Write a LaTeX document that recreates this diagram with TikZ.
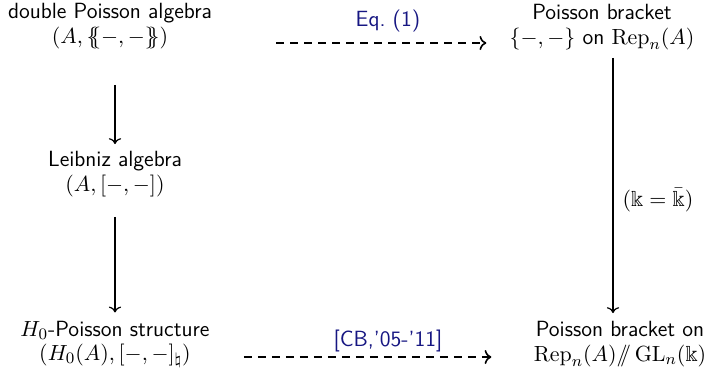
\documentclass[tikz,border=0pt]{standalone}
\usepackage{amssymb}
\usetikzlibrary{arrows.meta}
\definecolor{citeblue}{RGB}{22,22,130}
\begin{document}
\begin{tikzpicture}[x=0.5pt,y=-0.5pt,
  lbl/.style={font=\sffamily\fontsize{11}{12.2}\selectfont, inner sep=0pt, align=center},
  bluelbl/.style={lbl, text=citeblue},
  solidarr/.style={->, line width=0.6pt},
  dasharr/.style={->, dashed, line width=0.8pt, dash pattern=on 4pt off 3pt}]
\useasboundingbox (0,0) rectangle (711,376);
% left column
\node[lbl] (tl) at (110,26) {double Poisson algebra\\$(A,\{\!\!\{-,-\}\!\!\})$};
\node[lbl] (ml) at (115,174) {Leibniz algebra\\$(A,[-,-])$};
\node[lbl] (bl) at (115,344) {$H_0$-Poisson structure\\$(H_0(A),[-,-]_\natural)$};
% right column
\node[lbl] (tr) at (602,27) {Poisson bracket\\$\{-,-\}$ on $\mathrm{Rep}_n(A)$};
\node[lbl] (br) at (620,344) {Poisson bracket on\\$\mathrm{Rep}_n(A)/\!\!/\,\mathrm{GL}_n(\Bbbk)$};
% labels
\node[bluelbl] (eq) at (388,21) {Eq.~(1)};
\node[bluelbl] (cb) at (388,341) {[CB,'05-'11]};
\node[lbl] (kk) at (658,200) {$(\Bbbk=\bar{\Bbbk})$};
% arrows
\draw[solidarr, shorten <=36pt/2, shorten >=7pt/2] (tl.south -| ml.north) -- (ml.north);
\draw[solidarr, shorten <=20pt/2, shorten >=8pt/2] (ml.south) -- (bl.north);
\draw[solidarr, shorten <=8pt/2, shorten >=8pt/2] (tr.south -| 613,0) -- (br.north -| 613,0);
\draw[dasharr, shorten <=64pt/2, shorten >=23pt/2] (tl.east |- 0,43) -- (tr.west |- 0,43);
\draw[dasharr, shorten <=34pt/2, shorten >=42pt/2] (bl.east |- 0,357) -- (br.west |- 0,357);
\end{tikzpicture}
\end{document}
